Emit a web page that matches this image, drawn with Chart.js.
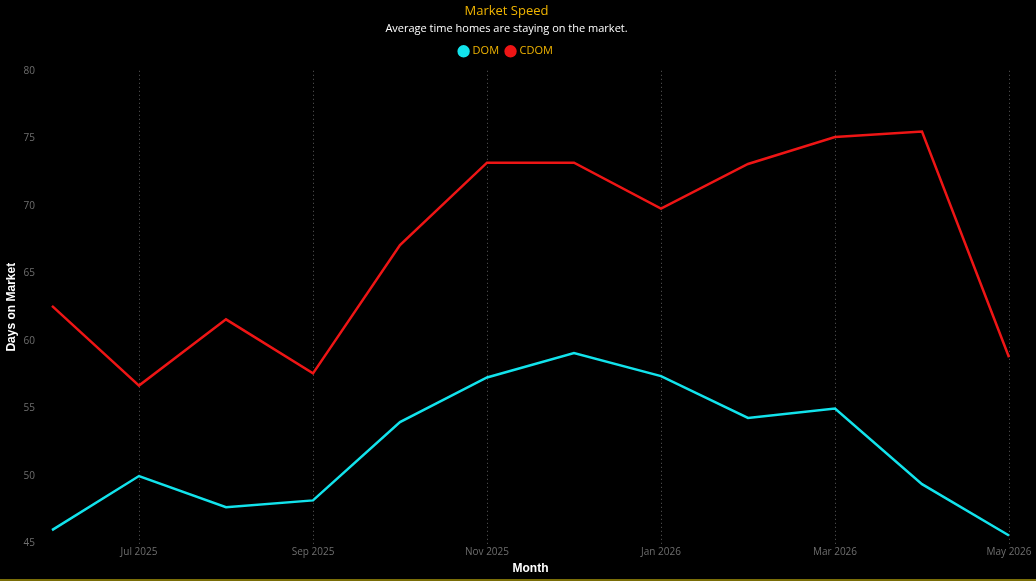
<!DOCTYPE html>
<html>
<head>
<meta charset="utf-8">
<script src="https://cdn.jsdelivr.net/npm/chart.js@4"></script>
<style>
  html, body { margin: 0; padding: 0; background: #000; }
  #wrap { width: 1036px; height: 579px; position: relative; border-bottom: 2px solid #7a6e08; }
</style>
</head>
<body>
<div id="wrap"><canvas id="speedChart"></canvas></div>
<script>
const months = ['Jun 2025', 'Jul 2025', 'Aug 2025', 'Sep 2025', 'Oct 2025', 'Nov 2025',
                'Dec 2025', 'Jan 2026', 'Feb 2026', 'Mar 2026', 'Apr 2026', 'May 2026'];
const domValues = [46.0, 50.0, 47.7, 48.2, 54.0, 57.3, 59.1, 57.4, 54.3, 55.0, 49.4, 45.6];
const cdomValues = [62.6, 56.7, 61.6, 57.6, 67.1, 73.2, 73.2, 69.8, 73.1, 75.1, 75.5, 58.8];
const yTicks = [45, 50, 55, 60, 65, 70, 75, 80];

// extra room between the legend and the plot
const legendGap = {
  id: 'legendGap',
  beforeInit(chart) {
    const fit = chart.legend.fit;
    chart.legend.fit = function () {
      fit.bind(chart.legend)();
      this.height += 4;
    };
  }
};

document.addEventListener('DOMContentLoaded', function () {
  const ctx = document.getElementById('speedChart').getContext('2d');
  const font = '"Open Sans", "Noto Sans", sans-serif';
  const boldFont = '"Liberation Sans", Arial, sans-serif';

  new Chart(ctx, {
    type: 'line',
    data: {
      labels: months,
      datasets: [{
        label: 'DOM',
        data: domValues,
        borderColor: '#12e3ec',
        backgroundColor: '#12e3ec',
        borderWidth: 2.5,
        pointRadius: 0,
        tension: 0,
        fill: false
      },
      {
        label: 'CDOM',
        data: cdomValues,
        borderColor: '#ee1515',
        backgroundColor: '#ee1515',
        borderWidth: 2.5,
        pointRadius: 0,
        tension: 0,
        fill: false
      }]
    },
    plugins: [legendGap],
    options: {
      responsive: true,
      maintainAspectRatio: false,
      animation: false,
      layout: { padding: { top: 3, right: 27, bottom: 3, left: 4 } },
      plugins: {
        title: {
          display: true,
          text: 'Market Speed',
          color: '#f0b400',
          font: { family: font, size: 13, weight: 500 },
          padding: { top: 0, bottom: 4 }
        },
        subtitle: {
          display: true,
          text: 'Average time homes are staying on the market.',
          color: '#ffffff',
          font: { family: font, size: 11 },
          padding: { bottom: 2 }
        },
        legend: {
          position: 'top',
          labels: {
            color: '#f0b400',
            font: { family: font, size: 11 },
            usePointStyle: true,
            pointStyle: 'circle',
            boxWidth: 7,
            boxHeight: 7,
            padding: 8
          }
        },
        tooltip: { enabled: false }
      },
      scales: {
        y: {
          min: 45,
          max: 80,
          afterBuildTicks: function (axis) {
            axis.ticks = yTicks.map(v => ({ value: v }));
          },
          afterFit: function (axis) { axis.width = 48; },
          grid: { display: false },
          border: { display: false },
          ticks: {
            color: '#6e6e6e',
            font: { family: font, size: 10 },
            padding: 9
          },
          title: {
            display: true,
            text: 'Days on Market',
            color: '#ffffff',
            font: { family: boldFont, size: 12, weight: 'bold' },
            padding: 0
          }
        },
        x: {
          offset: false,
          border: { display: false, dash: [1, 3] },
          grid: {
            color: function (c) { return c.index % 2 === 1 ? '#5a5a5a' : 'transparent'; },
            lineWidth: 1,
            drawTicks: false
          },
          ticks: {
            color: '#6e6e6e',
            font: { family: font, size: 10 },
            autoSkip: false,
            maxRotation: 0,
            padding: 3,
            callback: function (val, i) { return i % 2 === 1 ? this.getLabelForValue(val) : ''; }
          },
          title: {
            display: true,
            text: 'Month',
            color: '#ffffff',
            font: { family: boldFont, size: 12, weight: 'bold' },
            padding: { top: 0, bottom: 0 }
          }
        }
      }
    }
  });
});
</script>
</body>
</html>
